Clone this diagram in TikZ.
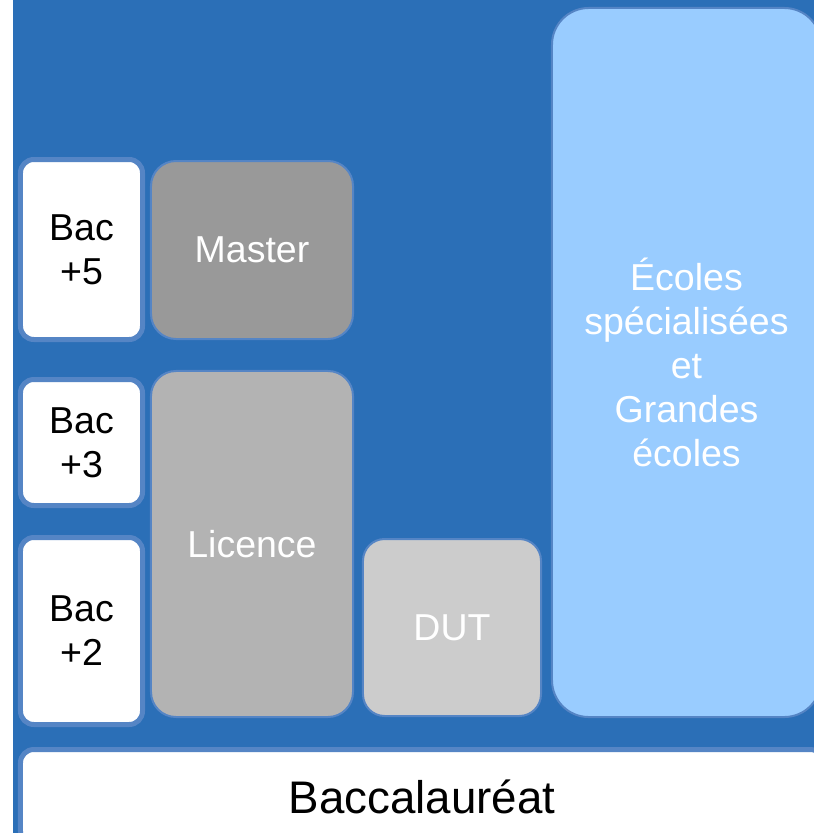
\documentclass[tikz,border=0pt]{standalone}
\usepackage{fontspec}
\setmainfont{Liberation Sans}
\definecolor{bgblue}{HTML}{2B6FB7}
\definecolor{edgeblue}{HTML}{5585C5}
\definecolor{skyblue}{HTML}{99CCFF}
\definecolor{grayA}{HTML}{999999}
\definecolor{grayB}{HTML}{B3B3B3}
\definecolor{grayC}{HTML}{CCCCCC}
\begin{document}
\begin{tikzpicture}[x=0.03cm,y=-0.03cm]
        \tikzset{
          level/.style={draw=edgeblue,line width=0.15cm,fill=white,rounded corners=0.4cm,
            minimum width=3.66cm,align=center,font=\fontsize{32}{37.5}\selectfont,inner sep=0pt},
          cursus/.style={draw=edgeblue,line width=0.06cm,rounded corners=0.75cm,text=white,
            align=center,font=\fontsize{32}{37.5}\selectfont,inner sep=0pt},
        }
        \clip (0,0) rectangle (814,833);
        %BACKGROUND
        \fill[white] (0,0) rectangle (814,833);
        \fill[bgblue] (13,0) rectangle (814,833);
        %LEVELS
        \node[level,minimum height=5.4cm] (bac5) at (81.5,249.5) {Bac\\+5};
        \node[level,minimum height=3.78cm] (bac3) at (81.5,442.5) {Bac\\+3};
        \node[level,minimum height=5.61cm] (bac2) at (81.5,631) {Bac\\+2};
        %CURSUS
        \node[cursus,fill=grayA,minimum width=6.06cm,minimum height=5.34cm] (master) at (252,250) {Master};
        \node[cursus,fill=grayB,minimum width=6.06cm,minimum height=10.38cm] (licence) at (252,544) {Licence};
        \node[cursus,fill=grayC,minimum width=5.34cm,minimum height=5.31cm,rounded corners=0.65cm] (dut) at (452,627.5) {DUT};
        \node[cursus,fill=skyblue,minimum width=8.07cm,minimum height=21.27cm,rounded corners=1.1cm] (ecoles) at (686.5,362.5) {Écoles\\spécialisées\\et\\Grandes\\écoles};
        %BAC
        \node[level,minimum width=24.09cm,minimum height=2.85cm,font=\fontsize{39}{46}\selectfont] (bac) at (422,797) {Baccalauréat};
\end{tikzpicture}
\end{document}
